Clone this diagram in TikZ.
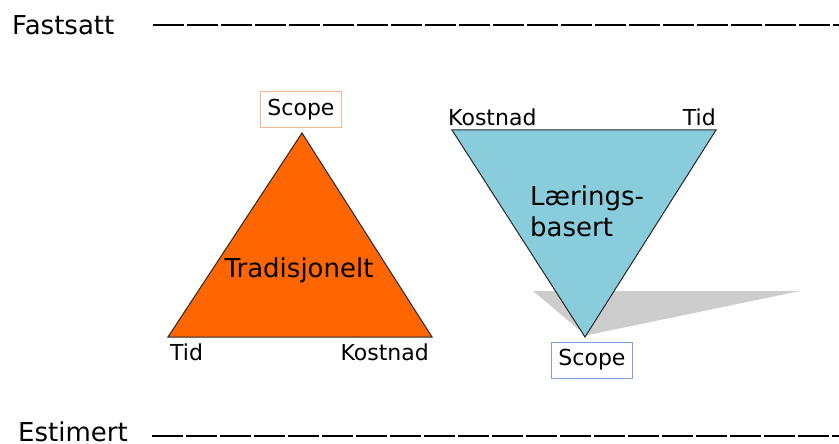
\documentclass[tikz,border=0pt]{standalone}
\usepackage{fontspec}
\setmainfont{DejaVu Sans}
\definecolor{tradorange}{RGB}{255,102,0}
\definecolor{tradborder}{RGB}{250,178,140}
\definecolor{laerblue}{RGB}{137,205,221}
\definecolor{laerborder}{RGB}{126,160,220}
\definecolor{shadowgray}{RGB}{205,205,205}
\usetikzlibrary{positioning,calc}

\begin{document}
\begin{tikzpicture}[x=1pt, y=-1pt,
        bigtxt/.style={inner sep=0pt, font=\fontsize{26}{31}\selectfont},
        smalltxt/.style={inner sep=0pt, font=\fontsize{22}{26}\selectfont},
        scopebox/.style={draw, line width=1pt, fill=white, inner sep=0pt,
                         minimum width=81pt, minimum height=36pt,
                         font=\fontsize{22}{26}\selectfont},
        dashline/.style={line width=2.6pt, dash pattern=on 31pt off 3pt},
        tri/.style={draw=black!85, line width=1pt}
      ]
        \useasboundingbox (0,0) rectangle (839,444);
        % Top and bottom levels
        \node[bigtxt, anchor=base west] (fastsatt) at (12,35) {Fastsatt};
        \coordinate (faststart) at (153,25);
        \coordinate (fastend) at (839,25);
        \draw[dashline] (faststart) -- (fastend);
        \node[bigtxt, anchor=base west] (estimert) at (18,441) {Estimert};
        \coordinate (eststart) at (152,436);
        \coordinate (estend) at (839,436);
        \draw[dashline] (eststart) -- (estend);
        % Traditional triangle
        \coordinate (tradtop) at (302,133);
        \coordinate (tradleft) at (168,337);
        \coordinate (tradright) at (432,337);
        \draw[tri, fill=tradorange] (tradtop) -- (tradright) -- (tradleft) -- cycle;
        \node[scopebox, draw=tradborder] (tradscope) at (301,110) {Scope};
        \node[bigtxt, anchor=base] (tradlbl) at (299,277) {Tradisjonelt};
        \node[smalltxt, anchor=base west] (tradtid) at (170,360) {Tid};
        \node[smalltxt, anchor=base east] (tradkost) at (429,360) {Kostnad};
        % Learning-based triangle with its shadow
        \fill[shadowgray] (533,291) -- (800,291) -- (588,335) -- (583,333) -- cycle;
        \coordinate (laerleft) at (452,130);
        \coordinate (laerright) at (716,130);
        \coordinate (laerbottom) at (585,337);
        \draw[tri, fill=laerblue] (laerleft) -- (laerright) -- (laerbottom) -- cycle;
        \node[scopebox, draw=laerborder] (laerscope) at (592,360) {Scope};
        \node[bigtxt, anchor=north west, align=left] (laerlbl) at (530,186)
          {Lærings-\\basert};
        \node[smalltxt, anchor=base west] (laerkost) at (448,125) {Kostnad};
        \node[smalltxt, anchor=base east] (laertid) at (716,125) {Tid};
      \end{tikzpicture}
\end{document}
